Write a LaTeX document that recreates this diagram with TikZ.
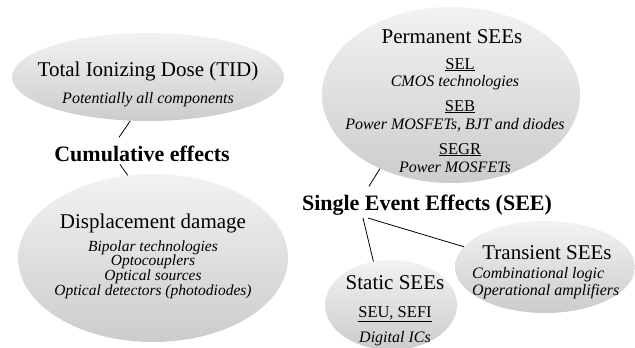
\documentclass[tikz,border=0pt]{standalone}
\usepackage{fontspec}
\setmainfont{Liberation Serif}
\usetikzlibrary{shapes.geometric}

\tikzset{
  effect/.style={ellipse, inner sep=0pt, top color=gray!10, middle color=gray!72, bottom color=gray!40},
  head/.style={font=\fontsize{21}{24}\selectfont, anchor=base, inner sep=0pt},
  item/.style={font=\fontsize{16}{18}\selectfont\itshape, anchor=base, inner sep=0pt},
  kind/.style={font=\fontsize{16.5}{18}\selectfont, anchor=base, inner sep=0pt},
  group/.style={font=\fontsize{22}{24}\selectfont\bfseries, anchor=base, inner sep=0pt},
  link/.style={draw, line width=0.8pt}
}

\begin{document}
\begin{tikzpicture}[x=1pt,y=-1pt]

\useasboundingbox (0,0) rectangle (635,348);

% cumulative effects
\node [effect, minimum width=272pt, minimum height=88pt] (tid) at (148,77) {};
\node [effect, minimum width=270pt, minimum height=168pt] (disp) at (153,258) {};
\node [head] (tidT) at (148,76) {Total Ionizing Dose (TID)};
\node [item] (tidA) at (148,103) {Potentially all components};
\node [group] (cum) at (142,161) {Cumulative effects};
\node [head] (dispT) at (153,228) {Displacement damage};
\node [item, font=\fontsize{15.5}{18}\selectfont\itshape] (dispA) at (153,251) {Bipolar technologies};
\node [item, font=\fontsize{15.5}{18}\selectfont\itshape] (dispB) at (153,265.5) {Optocouplers};
\node [item, font=\fontsize{15.5}{18}\selectfont\itshape] (dispC) at (153,280) {Optical sources};
\node [item, font=\fontsize{15.5}{18}\selectfont\itshape] (dispD) at (153,295) {Optical detectors (photodiodes)};

% single event effects
\node [effect, minimum width=258pt, minimum height=176pt] (perm) at (451,95) {};
\node [effect, minimum width=180pt, minimum height=92pt] (trans) at (545,267) {};
\node [effect, minimum width=132pt, minimum height=90pt] (static) at (391,305) {};
\node [head] (permT) at (452,43) {Permanent SEEs};
\node [kind] (sel) at (460,69) {\underline{SEL}};
\node [item] (selA) at (455,86) {CMOS technologies};
\node [kind] (seb) at (460,111) {\underline{SEB}};
\node [item] (sebA) at (455,129) {Power MOSFETs, BJT and diodes};
\node [kind] (segr) at (460,154) {\underline{SEGR}};
\node [item] (segrA) at (455,172) {Power MOSFETs};
\node [group] (see) at (427,210) {Single Event Effects (SEE)};
\node [head] (transT) at (547,259) {Transient SEEs};
\node [item, anchor=base west] (transA) at (472,278) {Combinational logic};
\node [item, anchor=base west] (transB) at (472,295) {Operational amplifiers};
\node [head] (staticT) at (395,289) {Static SEEs};
\node [kind] (seu) at (395,317) {\underline{SEU, SEFI}};
\node [item] (staticA) at (395,342) {Digital ICs};

\draw [link] (tid.248) -- ([xshift=-23pt,yshift=8pt]cum.north);
\draw [link] ([xshift=-22pt,yshift=-3pt]cum.south) -- (disp.107);
\draw [link] (perm.226) -- ([xshift=-58pt,yshift=8pt]see.north);
\draw [link] ([xshift=-64pt,yshift=-3pt]see.south) -- (static.112);
\draw [link] ([xshift=-59pt,yshift=-3pt]see.south) -- (trans.166);
\end{tikzpicture}
\end{document}
